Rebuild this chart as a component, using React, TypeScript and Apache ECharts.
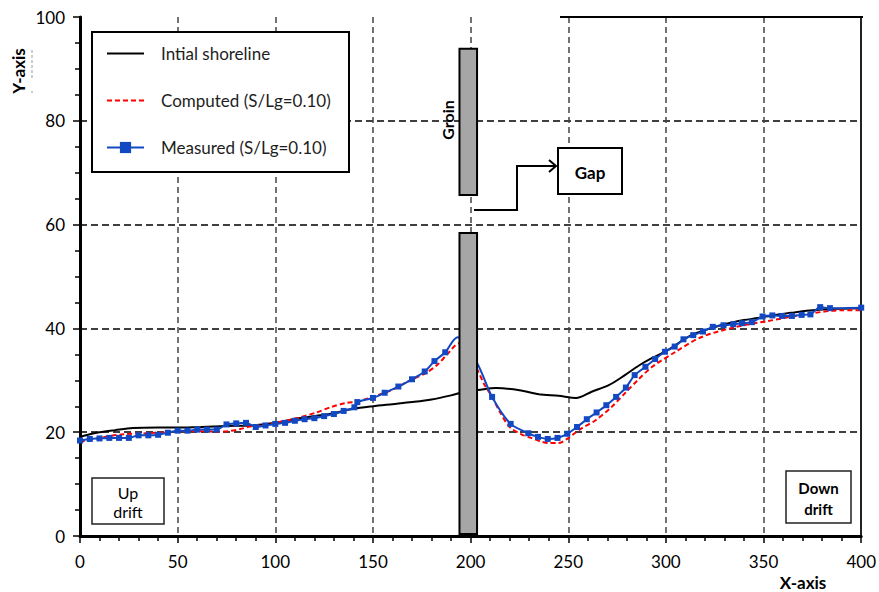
import React, { useEffect, useRef } from "react";
import * as echarts from "echarts";

// ---- data (x along shore, y shoreline position) ----
const initialShoreline: [number, number][] = [
  [0, 19.1], [5, 19.6], [10, 20.0], [18, 20.4], [27, 20.8], [40, 20.9], [50, 20.9], [62, 21.0],
  [75, 21.2], [88, 21.3], [100, 21.8], [112, 22.7], [126, 23.4], [140, 24.5], [150, 25.0],
  [160, 25.4], [170, 25.8], [180, 26.3], [190, 27.1], [197, 27.8], [205, 28.2], [213, 28.5],
  [225, 28.1], [235, 27.3], [245, 27.0], [254, 26.6], [262, 27.8], [271, 29.1], [279, 31.0],
  [286, 32.8], [293, 34.3], [300, 35.6], [313, 38.7], [322, 39.9], [330, 40.8], [340, 41.6],
  [347, 42.0], [356, 42.6], [364, 43.0], [372, 43.4], [382, 43.7], [390, 43.8], [400, 43.9],
];

const computed: [number, number][] = [
  [0, 18.1], [10, 18.9], [22, 19.6], [35, 19.8], [50, 20.1], [62, 20.2], [70, 20.1], [76, 20.2],
  [82, 20.6], [87, 21.1], [92, 21.4], [100, 21.8], [112, 22.8], [121, 23.8], [129, 24.9],
  [136, 25.6], [143, 26.0], [150, 26.8], [160, 28.2], [169, 30.0], [177, 31.4], [183, 33.0],
  [188, 35.0], [193.8, 37.1], [203, 32.3], [207, 29.2], [211, 26.8], [215, 23.9], [220, 21.0],
  [226, 19.6], [231, 18.9], [236, 18.2], [240, 17.9], [245, 17.9], [249, 18.6], [254, 20.0],
  [257, 20.8], [264, 22.3], [272, 24.8], [279, 27.5], [286, 30.2], [293, 32.6], [305, 35.5],
  [318, 38.3], [336, 40.3], [352, 41.4], [373, 42.8], [390, 43.5], [400, 43.5],
];

const measured: [number, number][] = [
  [0, 18.4], [5, 18.7], [10, 18.8], [15, 18.9], [20, 18.9], [25, 18.9], [30, 19.4], [35, 19.4],
  [40, 19.5], [45, 19.9], [50, 20.3], [55, 20.3], [60, 20.5], [65, 20.5], [70, 20.5], [75, 21.5],
  [80, 21.7], [85, 21.8], [90, 21.0], [95, 21.3], [100, 21.6], [105, 21.8], [110, 22.2],
  [115, 22.5], [120, 22.7], [125, 23.1], [130, 23.5], [135, 24.1], [140.5, 24.8], [142, 25.8],
  [150, 26.6], [156, 27.6], [163, 28.8], [170, 30.2], [176.5, 31.7], [181.5, 33.7], [187, 35.4],
  [211, 26.8], [220.5, 21.6], [229.5, 19.8], [234.5, 19.1], [239.5, 18.7], [244.5, 18.9],
  [249.5, 19.7], [254.5, 21.0], [259.5, 22.5], [264.5, 23.8], [269.5, 25.2], [274.5, 26.8],
  [279.5, 28.6], [284, 31.0], [289.5, 32.6], [294.5, 34.1], [299.5, 35.5], [304.5, 36.5],
  [309, 37.9], [314, 38.7], [319, 39.4], [324, 40.3], [329.5, 40.6], [334.5, 40.8], [339, 41.0],
  [344, 41.2], [349.5, 42.3], [354.5, 42.5], [359.5, 42.4], [364.5, 42.4], [369.5, 42.6],
  [374, 42.7], [379, 44.1], [384, 43.9], [400, 44.0],
];
// line points of the measured curve that carry no marker (hidden behind the groin)
const measuredUnmarked: [number, number][] = [[191, 37.6], [193.5, 38.3], [203.5, 33.2]];

// groin blocks: [x0, y0, x1, y1]
const groinBlocks: [number, number, number, number][] = [
  [194.3, 0.4, 203.3, 58.4],
  [194.3, 65.7, 203.3, 93.9],
];

const seriesNames = ["Intial shoreline", "Computed (S/Lg=0.10)", "Measured (S/Lg=0.10)"];
const X_MIN = 0, X_MAX = 400, X_STEP = 50;
const Y_MIN = 0, Y_MAX = 100, Y_STEP = 20;

const FONT = "Lato, 'Open Sans', sans-serif";

export default function App() {
  const ref = useRef<HTMLDivElement>(null);
  useEffect(() => {
    if (!ref.current) return;
    const chart = echarts.init(ref.current, undefined, { renderer: "svg" });

    const measuredData = [
      ...measured.map((p) => ({ value: p })),
      ...measuredUnmarked.map((p) => ({ value: p, symbol: "none" })),
    ].sort((a, b) => a.value[0] - b.value[0]);

    const option: any = {
      animation: false,
      backgroundColor: "#fff",
      textStyle: { fontFamily: FONT },
      grid: { left: 80, right: 16, top: 17, bottom: 56, containLabel: false },
      legend: {
        data: [
          { name: seriesNames[0], icon: "path://M0,0h37v2h-37z" },
          { name: seriesNames[1], icon: "path://M0,0h5v2h-5zM8,0h5v2h-5zM16,0h5v2h-5zM24,0h5v2h-5zM32,0h5v2h-5z" },
          { name: seriesNames[2] },
        ],
        orient: "vertical",
        left: 106,
        top: 45,
        itemWidth: 37,
        itemHeight: 14,
        itemGap: 30,
        padding: 0,
        z: 10,
        symbolKeepAspect: true,
        textStyle: { fontFamily: FONT, fontSize: 17, color: "#1e1e1e", padding: [0, 0, 0, 12] },
      },
      xAxis: [
        {
          type: "value",
          min: X_MIN,
          max: X_MAX,
          interval: X_STEP,
          axisLine: { show: true, onZero: false, lineStyle: { color: "#000", width: 3 } },
          axisTick: { show: true, inside: false, length: 7, lineStyle: { color: "#000", width: 1.5 } },
          minorTick: { show: true, splitNumber: 5, length: 5, lineStyle: { color: "#000", width: 1.5 } },
          axisLabel: { fontFamily: FONT, fontSize: 17, color: "#000", margin: 17 },
          splitLine: {
            show: true,
            showMinLine: false,
            showMaxLine: false,
            lineStyle: { color: "#444", width: 1.5, type: [6, 4] },
          },
        },
      ],
      yAxis: [
        {
          type: "value",
          min: Y_MIN,
          max: Y_MAX,
          interval: Y_STEP,
          axisLine: { show: true, onZero: false, lineStyle: { color: "#000", width: 3 } },
          axisTick: { show: true, inside: false, length: 7, lineStyle: { color: "#000", width: 1.5 } },
          minorTick: { show: true, splitNumber: 4, length: 5, lineStyle: { color: "#000", width: 1.5 } },
          axisLabel: { fontFamily: FONT, fontSize: 17, color: "#000", margin: 15 },
          splitLine: {
            show: true,
            showMinLine: false,
            showMaxLine: false,
            lineStyle: { color: "#000", width: 1.5, type: [7, 4] },
          },
        },
        {
          type: "value",
          position: "right",
          min: Y_MIN,
          max: Y_MAX,
          interval: Y_STEP,
          axisLine: { show: true, onZero: false, lineStyle: { color: "#222", width: 2 } },
          axisTick: { show: false },
          axisLabel: { show: false },
          splitLine: { show: false },
        },
      ],
      series: [
        {
          name: seriesNames[0],
          type: "line",
          data: initialShoreline,
          smooth: 0.3,
          symbol: "none",
          lineStyle: { color: "#000", width: 2 },
          itemStyle: { color: "#000" },
          z: 2,
        },
        {
          name: seriesNames[1],
          type: "line",
          data: computed,
          smooth: 0.3,
          symbol: "none",
          lineStyle: { color: "#ff0000", width: 2, type: [5, 3] },
          itemStyle: { color: "#ff0000" },
          z: 3,
        },
        {
          name: seriesNames[2],
          type: "line",
          data: measuredData,
          smooth: 0.25,
          symbol: "rect",
          symbolSize: 6,
          showAllSymbol: true,
          lineStyle: { color: "#1248c2", width: 2 },
          itemStyle: { color: "#1248c2" },
          z: 4,
        },
        {
          name: "groin",
          type: "custom",
          data: groinBlocks,
          encode: { x: [0, 2], y: [1, 3] },
          clip: false,
          z: 6,
          silent: true,
          renderItem: (_params: any, api: any) => {
            const p0 = api.coord([api.value(0), api.value(1)]);
            const p1 = api.coord([api.value(2), api.value(3)]);
            return {
              type: "rect",
              shape: { x: p0[0], y: p1[1], width: p1[0] - p0[0], height: p0[1] - p1[1] },
              style: { fill: "#a6a6a6", stroke: "#000", lineWidth: 2 },
            };
          },
        },
      ],
      graphic: [
        // legend frame
        { type: "rect", z: 5, shape: { x: 92, y: 32, width: 257, height: 140 }, style: { fill: "#fff", stroke: "#000", lineWidth: 2 } },
        // partial top frame
        { type: "line", z: 5, shape: { x1: 560, y1: 17, x2: 863, y2: 17 }, style: { stroke: "#000", lineWidth: 2 } },
        // axis titles
        {
          type: "text", z: 5, x: 18, y: 71, rotation: Math.PI / 2,
          style: { text: "Y-axis", fontFamily: FONT, fontSize: 17, fontWeight: "bold", fill: "#000", align: "center", verticalAlign: "middle" },
        },
        { type: "line", z: 5, shape: { x1: 32, y1: 50, x2: 32, y2: 79 }, style: { stroke: "#999", lineWidth: 1, lineDash: [3, 2] } },
        { type: "line", z: 5, shape: { x1: 32, y1: 91, x2: 32, y2: 93 }, style: { stroke: "#999", lineWidth: 1 } },
        {
          type: "text", z: 5, x: 803, y: 582,
          style: { text: "X-axis", fontFamily: FONT, fontSize: 17, fontWeight: "bold", fill: "#000", align: "center", verticalAlign: "middle" },
        },
        // groin label
        {
          type: "text", z: 7, x: 447, y: 120, rotation: Math.PI / 2,
          style: { text: "Groin", fontFamily: FONT, fontSize: 16, fontWeight: "bold", fill: "#000", align: "center", verticalAlign: "middle" },
        },
        // arrow to the gap box
        {
          type: "polyline", z: 7,
          shape: { points: [[474, 210], [517, 210], [517, 166], [556, 166]] },
          style: { stroke: "#000", lineWidth: 2, fill: "none" },
        },
        {
          type: "polyline", z: 7,
          shape: { points: [[549, 160], [556, 166], [549, 172]] },
          style: { stroke: "#000", lineWidth: 2, fill: "none" },
        },
        { type: "rect", z: 7, shape: { x: 558, y: 148, width: 64, height: 46 }, style: { fill: "#fff", stroke: "#000", lineWidth: 2 } },
        {
          type: "text", z: 8, x: 590, y: 172,
          style: { text: "Gap", fontFamily: FONT, fontSize: 17, fontWeight: "bold", fill: "#000", align: "center", verticalAlign: "middle" },
        },
        // up drift box
        { type: "rect", z: 7, shape: { x: 92, y: 478, width: 72, height: 46 }, style: { fill: "#fff", stroke: "#222", lineWidth: 1.5 } },
        {
          type: "text", z: 8, x: 128, y: 502,
          style: { text: "Up\ndrift", fontFamily: FONT, fontSize: 16, lineHeight: 19, fill: "#000", align: "center", verticalAlign: "middle" },
        },
        // down drift box
        { type: "rect", z: 7, shape: { x: 786, y: 471, width: 65, height: 52 }, style: { fill: "#fff", stroke: "#222", lineWidth: 1.5 } },
        {
          type: "text", z: 8, x: 818.5, y: 498,
          style: { text: "Down\ndrift", fontFamily: FONT, fontSize: 15, fontWeight: "bold", lineHeight: 21, fill: "#000", align: "center", verticalAlign: "middle" },
        },
      ],
    };
    chart.setOption(option);
    return () => chart.dispose();
  }, []);
  return <div ref={ref} style={{ width: 879, height: 592, position: "absolute", left: 0, top: 0 }} />;
}
